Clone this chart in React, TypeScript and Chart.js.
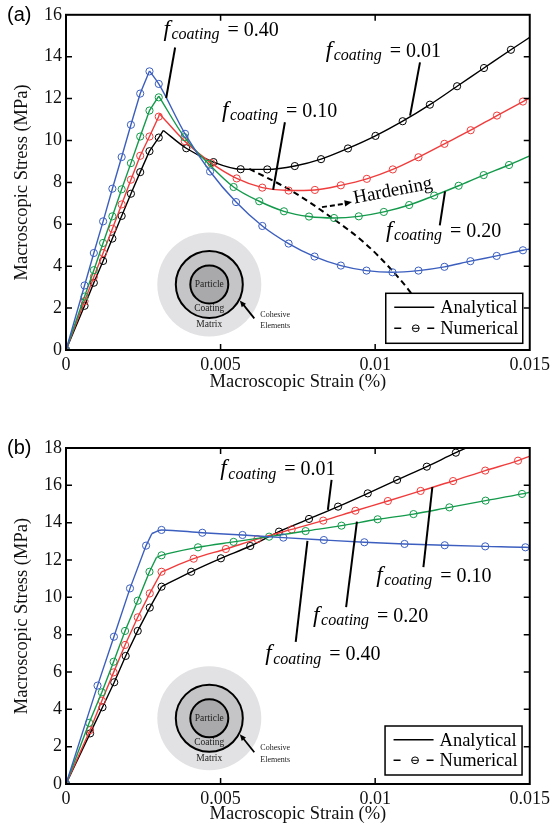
import React, { useEffect, useRef } from 'react';
import { Chart, registerables } from 'chart.js';
Chart.register(...registerables);

const SERIF = '"Liberation Serif", "Times New Roman", serif';
const SANS = '"Liberation Sans", Arial, sans-serif';
const BLACK = '#000000';
const RED = '#f03c3c';
const GREEN = '#139a4b';
const BLUE = '#3c5fbf';

const xTickValues = [0, 0.005, 0.01, 0.015];
const xTickLabels = ['0', '0.005', '0.01', '0.015'];
const legendLabels = ['Analytical', 'Numerical'];
const xTitle = 'Macroscopic Strain (%)';
const yTitle = 'Macroscopic Stress (MPa)';

// ---------- panel (a) ----------
const aBlackX = [0, 0.0006, 0.0009, 0.0012, 0.0015, 0.0018, 0.0021, 0.0024, 0.0027, 0.003, 0.00389, 0.00477, 0.00565, 0.00651, 0.0074, 0.00825, 0.00912, 0.01001, 0.01089, 0.01177, 0.01265, 0.01352, 0.01439];
const aBlackY = [0, 2.11, 3.21, 4.25, 5.32, 6.4, 7.46, 8.49, 9.49, 10.14, 9.63, 8.97, 8.63, 8.62, 8.78, 9.11, 9.62, 10.22, 10.92, 11.71, 12.59, 13.46, 14.33];
const aRedX = [0, 0.0006, 0.0009, 0.0012, 0.0015, 0.0018, 0.0021, 0.0024, 0.0027, 0.003, 0.00384, 0.0047, 0.00552, 0.00635, 0.0072, 0.00805, 0.00889, 0.00973, 0.01057, 0.0114, 0.01224, 0.01309, 0.01394, 0.01478];
const aRedY = [0, 2.33, 3.49, 4.63, 5.79, 6.95, 8.13, 9.27, 10.19, 11.14, 9.97, 8.92, 8.19, 7.75, 7.61, 7.64, 7.86, 8.17, 8.62, 9.2, 9.84, 10.49, 11.19, 11.86];
const aGreenX = [0, 0.0006, 0.0009, 0.0012, 0.0015, 0.0018, 0.0021, 0.0024, 0.0027, 0.003, 0.00383, 0.00461, 0.00542, 0.00625, 0.00705, 0.00786, 0.00867, 0.00947, 0.01028, 0.0111, 0.01191, 0.0127, 0.01351, 0.01433];
const aGreenY = [0, 2.55, 3.81, 5.11, 6.38, 7.67, 8.92, 10.19, 11.43, 12.06, 10.16, 8.89, 7.78, 7.1, 6.62, 6.37, 6.3, 6.38, 6.59, 6.92, 7.37, 7.84, 8.35, 8.83];
const aBlueX = [0, 0.0006, 0.0009, 0.0012, 0.0015, 0.0018, 0.0021, 0.0024, 0.0027, 0.003, 0.00385, 0.00466, 0.0055, 0.00635, 0.0072, 0.00804, 0.00889, 0.00972, 0.01056, 0.0114, 0.01224, 0.01308, 0.01393, 0.01478];
const aBlueY = [0, 3.08, 4.63, 6.14, 7.7, 9.21, 10.75, 12.24, 13.3, 12.7, 10.32, 8.52, 7.06, 5.92, 5.08, 4.46, 4.03, 3.79, 3.71, 3.79, 3.97, 4.24, 4.49, 4.76];
// analytical peaks and end values (black, red, green, blue)
const aPeakX = [0.00315, 0.00302, 0.003, 0.0027];
const aPeakY = [10.48, 11.28, 12.12, 13.32];
const aEndY = [14.92, 12.03, 9.27, 4.82];
// hardening boundary (dashed)
const aBoundaryX = [0.00593, 0.00727, 0.00856, 0.00968, 0.01054, 0.01113, 0.0117];
const aBoundaryY = [8.65, 7.62, 6.35, 5.08, 3.81, 2.78, 1.6];

// ---------- panel (b) ----------
const bBlackX = [0, 0.00078, 0.00118, 0.00156, 0.00193, 0.00232, 0.00271, 0.00309, 0.00405, 0.00501, 0.00596, 0.00689, 0.00786, 0.0088, 0.00976, 0.01071, 0.01167, 0.01261];
const bBlackY = [0, 2.71, 4.11, 5.45, 6.86, 8.2, 9.45, 10.57, 11.37, 12.09, 12.75, 13.52, 14.2, 14.86, 15.57, 16.29, 17.0, 17.75];
const bRedX = [0, 0.00078, 0.00116, 0.00154, 0.00191, 0.00232, 0.00271, 0.00309, 0.00413, 0.00517, 0.00619, 0.0073, 0.00832, 0.00936, 0.01041, 0.01147, 0.01252, 0.01356, 0.01462];
const bRedY = [0, 2.89, 4.46, 5.98, 7.45, 8.93, 10.21, 11.37, 12.07, 12.59, 13.12, 13.64, 14.11, 14.64, 15.16, 15.7, 16.23, 16.79, 17.32];
const bGreenX = [0, 0.00075, 0.00116, 0.00154, 0.00191, 0.00232, 0.0027, 0.00309, 0.00427, 0.00542, 0.00657, 0.00775, 0.00891, 0.01008, 0.01124, 0.0124, 0.01357, 0.01475];
const bGreenY = [0, 3.28, 4.91, 6.55, 8.2, 9.82, 11.37, 12.25, 12.68, 12.97, 13.25, 13.55, 13.84, 14.18, 14.46, 14.82, 15.18, 15.54];
const bBlueX = [0, 0.00102, 0.00155, 0.00207, 0.00259, 0.00309, 0.00441, 0.00571, 0.00703, 0.00834, 0.00965, 0.01095, 0.01225, 0.01356, 0.01486];
const bBlueY = [0, 5.27, 7.89, 10.48, 12.77, 13.61, 13.46, 13.34, 13.2, 13.07, 12.95, 12.86, 12.79, 12.73, 12.68];
const bKneeX = [0.00309, 0.00309, 0.00293, 0.00278];
const bKneeY = [10.57, 11.37, 12.15, 13.42];
const bEndY = [19.5, 17.57, 15.63, 12.67];

const coatingValues = ['0.01', '0.10', '0.20', '0.40'];

type Note = { v: string; tx: number; ty: number; x1: number; y1: number; x2: number; y2: number };

const aNotes: Note[] = [
  { v: coatingValues[3], tx: 0.00312, ty: 15.0, x1: 0.00353, y1: 14.44, x2: 0.00324, y2: 12.03 },
  { v: coatingValues[0], tx: 0.00837, ty: 14.0, x1: 0.01145, y1: 13.73, x2: 0.01113, y2: 11.19 },
  { v: coatingValues[1], tx: 0.00501, ty: 11.14, x1: 0.00708, y1: 10.87, x2: 0.0067, y2: 7.65 },
  { v: coatingValues[2], tx: 0.01032, ty: 5.4, x1: 0.01209, y1: 5.95, x2: 0.01226, y2: 7.57 },
];
const bNotes: Note[] = [
  { v: coatingValues[0], tx: 0.00496, ty: 16.55, x1: 0.00859, y1: 16.29, x2: 0.00847, y2: 14.68 },
  { v: coatingValues[1], tx: 0.0100, ty: 10.84, x1: 0.01156, y1: 11.62, x2: 0.01185, y2: 15.91 },
  { v: coatingValues[2], tx: 0.00796, ty: 8.69, x1: 0.00941, y1: 14.05, x2: 0.00906, y2: 9.48 },
  { v: coatingValues[3], tx: 0.00641, ty: 6.64, x1: 0.00743, y1: 7.62, x2: 0.00781, y2: 13.02 },
];

const pts = (xs: number[], ys: number[]) => xs.map((x, i) => ({ x, y: ys[i] }));

const lineDs = (data: any[], color: string, smooth: boolean, extra: any = {}) => ({
  data,
  borderColor: color,
  borderWidth: 1.4,
  pointRadius: 0,
  fill: false,
  showLine: true,
  tension: 0,
  cubicInterpolationMode: smooth ? 'monotone' : 'default',
  ...extra,
});

const markerDs = (xs: number[], ys: number[], color: string) => ({
  data: pts(xs, ys),
  showLine: false,
  pointRadius: 3.6,
  pointBorderWidth: 1,
  pointBorderColor: color,
  pointBackgroundColor: 'rgba(0,0,0,0)',
  borderColor: color,
  pointStyle: 'circle',
});

function splitSeries(xs: number[], ys: number[], kx: number, ky: number, endY: number, color: string) {
  const rise: any[] = [];
  const post: any[] = [];
  xs.forEach((x, i) => {
    if (x < kx) rise.push({ x, y: ys[i] });
    else if (x > kx) post.push({ x, y: ys[i] });
  });
  rise.push({ x: kx, y: ky });
  post.unshift({ x: kx, y: ky });
  post.push({ x: 0.015, y: endY });
  return [lineDs(rise, color, false), lineDs(post, color, true), markerDs(xs, ys, color)];
}

function arrowHead(ctx: CanvasRenderingContext2D, x1: number, y1: number, x2: number, y2: number, size: number) {
  const ang = Math.atan2(y2 - y1, x2 - x1);
  ctx.beginPath();
  ctx.moveTo(x2, y2);
  ctx.lineTo(x2 - size * Math.cos(ang - 0.4), y2 - size * Math.sin(ang - 0.4));
  ctx.lineTo(x2 - size * Math.cos(ang + 0.4), y2 - size * Math.sin(ang + 0.4));
  ctx.closePath();
  ctx.fill();
}

function drawNote(ctx: CanvasRenderingContext2D, x: number, y: number, val: string) {
  ctx.fillStyle = '#000';
  ctx.textAlign = 'left';
  ctx.textBaseline = 'alphabetic';
  ctx.font = `italic 23px ${SERIF}`;
  ctx.fillText('f', x + 1, y);
  ctx.font = `italic 16px ${SERIF}`;
  const cx = x + 9;
  ctx.fillText('coating', cx, y + 3.5);
  const ex = cx + ctx.measureText('coating').width + 8;
  ctx.font = `20px ${SERIF}`;
  ctx.fillText('= ' + val, ex, y);
}

function drawInset(ctx: CanvasRenderingContext2D, cx: number, cy: number) {
  ctx.save();
  ctx.fillStyle = '#e2e2e4';
  ctx.beginPath(); ctx.arc(cx, cy, 52, 0, Math.PI * 2); ctx.fill();
  ctx.fillStyle = '#c5c5c7';
  ctx.beginPath(); ctx.arc(cx, cy, 33.5, 0, Math.PI * 2); ctx.fill();
  ctx.lineWidth = 2; ctx.strokeStyle = '#000'; ctx.stroke();
  ctx.fillStyle = '#a9a9ab';
  ctx.beginPath(); ctx.arc(cx, cy, 19, 0, Math.PI * 2); ctx.fill(); ctx.stroke();
  ctx.fillStyle = '#222';
  ctx.textAlign = 'center';
  ctx.textBaseline = 'middle';
  ctx.font = `9.5px ${SERIF}`;
  ctx.fillText('Particle', cx, cy);
  ctx.fillText('Coating', cx, cy + 24);
  ctx.fillText('Matrix', cx, cy + 40);
  ctx.textAlign = 'left';
  ctx.font = `8px ${SERIF}`;
  ctx.fillText('Cohesive', cx + 51, cy + 30);
  ctx.fillText('Elements', cx + 51, cy + 41.5);
  ctx.strokeStyle = '#000'; ctx.fillStyle = '#000'; ctx.lineWidth = 1.8;
  ctx.beginPath(); ctx.moveTo(cx + 45, cy + 34); ctx.lineTo(cx + 33, cy + 19); ctx.stroke();
  arrowHead(ctx, cx + 45, cy + 34, cx + 30.5, cy + 16, 7);
  ctx.restore();
}

function drawLegend(ctx: CanvasRenderingContext2D, right: number, bottom: number, h: number) {
  const w = 137;
  const x = right - w;
  const y = bottom - h;
  ctx.save();
  ctx.fillStyle = '#fff';
  ctx.fillRect(x, y, w, h);
  ctx.strokeStyle = '#000';
  ctx.lineWidth = 1.5;
  ctx.strokeRect(x, y, w, h);
  const r1 = y + h * 0.28;
  const r2 = y + h * 0.7;
  ctx.lineWidth = 1.4;
  ctx.beginPath(); ctx.moveTo(x + 8.5, r1); ctx.lineTo(x + 48.5, r1); ctx.stroke();
  ctx.beginPath(); ctx.moveTo(x + 8.5, r2); ctx.lineTo(x + 15.5, r2); ctx.moveTo(x + 41.5, r2); ctx.lineTo(x + 48.5, r2); ctx.stroke();
  ctx.lineWidth = 1;
  ctx.beginPath(); ctx.arc(x + 30, r2, 3.4, 0, Math.PI * 2); ctx.stroke();
  ctx.beginPath(); ctx.moveTo(x + 26.6, r2); ctx.lineTo(x + 33.4, r2); ctx.stroke();
  ctx.fillStyle = '#000';
  ctx.font = `18.5px ${SERIF}`;
  ctx.textAlign = 'left';
  ctx.textBaseline = 'middle';
  ctx.fillText(legendLabels[0], x + 54.5, r1 + 1);
  ctx.fillText(legendLabels[1], x + 54.5, r2 + 1);
  ctx.restore();
}

type PanelOpts = {
  key: string;
  yMax: number;
  padTop: number;
  canvasH: number;
  titlePadBottom: number;
  datasets: any[];
  notes: Note[];
  insetX: number;
  insetY: number;
  legendDx: number;
  legendDy: number;
  legendH: number;
  label: string;
  labelY: number;
  hardening: boolean;
};

function makeConfig(p: PanelOpts): any {
  const plugin = {
    id: 'decor_' + p.key,
    beforeDatasetsDraw(chart: any) {
      const { ctx, scales } = chart;
      drawInset(ctx, scales.x.getPixelForValue(p.insetX), scales.y.getPixelForValue(p.insetY));
    },
    afterDatasetsDraw(chart: any) {
      const { ctx, chartArea: a, scales } = chart;
      const sx = scales.x;
      const sy = scales.y;
      ctx.save();
      ctx.strokeStyle = '#000';
      ctx.lineWidth = 2;
      ctx.strokeRect(a.left, a.top, a.right - a.left, a.bottom - a.top);
      ctx.lineWidth = 1.5;
      ctx.beginPath();
      for (let v = 2; v < p.yMax; v += 2) {
        const py = sy.getPixelForValue(v);
        ctx.moveTo(a.left, py); ctx.lineTo(a.left + 6, py);
        ctx.moveTo(a.right, py); ctx.lineTo(a.right - 6, py);
      }
      [xTickValues[1], xTickValues[2]].forEach((v) => {
        const px = sx.getPixelForValue(v);
        ctx.moveTo(px, a.bottom); ctx.lineTo(px, a.bottom - 6);
        ctx.moveTo(px, a.top); ctx.lineTo(px, a.top + 6);
      });
      ctx.stroke();
      ctx.lineWidth = 2;
      p.notes.forEach((n) => {
        ctx.beginPath();
        ctx.moveTo(sx.getPixelForValue(n.x1), sy.getPixelForValue(n.y1));
        ctx.lineTo(sx.getPixelForValue(n.x2), sy.getPixelForValue(n.y2));
        ctx.stroke();
        drawNote(ctx, sx.getPixelForValue(n.tx), sy.getPixelForValue(n.ty), n.v);
      });
      if (p.hardening) {
        const x1 = sx.getPixelForValue(0.00828), y1 = sy.getPixelForValue(6.82);
        const x2 = sx.getPixelForValue(0.00925), y2 = sy.getPixelForValue(7.06);
        ctx.setLineDash([5, 3]);
        ctx.beginPath(); ctx.moveTo(x1, y1); ctx.lineTo(x2 - 5, y2 + 1.2); ctx.stroke();
        ctx.setLineDash([]);
        ctx.fillStyle = '#000';
        arrowHead(ctx, x1, y1, x2, y2, 8);
        ctx.save();
        ctx.translate(sx.getPixelForValue(0.00933), sy.getPixelForValue(6.99));
        ctx.rotate(-11 * Math.PI / 180);
        ctx.font = `19px ${SERIF}`;
        ctx.textAlign = 'left';
        ctx.textBaseline = 'alphabetic';
        ctx.fillText('Hardening', 0, 0);
        ctx.restore();
      }
      drawLegend(ctx, a.right - p.legendDx, a.bottom - p.legendDy, p.legendH);
      ctx.restore();
    },
    afterDraw(chart: any) {
      const { ctx } = chart;
      ctx.save();
      ctx.fillStyle = '#000';
      ctx.font = `20px ${SANS}`;
      ctx.textAlign = 'left';
      ctx.textBaseline = 'middle';
      ctx.fillText(p.label, 7, p.labelY);
      ctx.restore();
    },
  };

  const tickFont = { family: SERIF, size: 18 };
  const titleFont = { family: SERIF, size: 18.5 };

  return {
    type: 'line',
    data: { datasets: p.datasets },
    options: {
      animation: false,
      responsive: false,
      devicePixelRatio: 1,
      layout: { padding: { top: p.padTop, right: 22, left: 0, bottom: 0 } },
      plugins: { legend: { display: false }, tooltip: { enabled: false } },
      scales: {
        x: {
          type: 'linear',
          min: 0,
          max: 0.015,
          afterBuildTicks: (s: any) => { s.ticks = xTickValues.map((v) => ({ value: v })); },
          afterFit: (s: any) => { s.height = p.canvasH - (p.padTop + 336); },
          ticks: {
            callback: (_v: any, i: number) => xTickLabels[i],
            font: tickFont,
            color: '#111',
            padding: 4,
            maxRotation: 0,
            autoSkip: false,
          },
          grid: { display: false, drawTicks: false },
          border: { display: false },
          title: { display: true, text: xTitle, font: titleFont, color: '#111', padding: { top: 0, bottom: p.titlePadBottom } },
        },
        y: {
          type: 'linear',
          min: 0,
          max: p.yMax,
          afterFit: (s: any) => { s.width = 66; },
          ticks: { stepSize: 2, font: tickFont, color: '#111', padding: 4 },
          grid: { display: false, drawTicks: false },
          border: { display: false },
          title: { display: true, text: yTitle, font: titleFont, color: '#111', padding: { top: 11, bottom: 0 } },
        },
      },
    },
    plugins: [plugin],
  };
}

function panelADatasets() {
  const ds: any[] = [];
  const xs = [aBlueX, aGreenX, aRedX, aBlackX];
  const ys = [aBlueY, aGreenY, aRedY, aBlackY];
  const cols = [BLUE, GREEN, RED, BLACK];
  const idx = [3, 2, 1, 0];
  xs.forEach((x, k) => {
    const i = idx[k];
    ds.push(...splitSeries(x, ys[k], aPeakX[i], aPeakY[i], aEndY[i], cols[k]));
  });
  ds.push(lineDs(pts(aBoundaryX, aBoundaryY), BLACK, true, { borderDash: [6, 4], borderWidth: 2 }));
  return ds;
}

function panelBDatasets() {
  const ds: any[] = [];
  const xs = [bBlueX, bGreenX, bRedX, bBlackX];
  const ys = [bBlueY, bGreenY, bRedY, bBlackY];
  const cols = [BLUE, GREEN, RED, BLACK];
  const idx = [3, 2, 1, 0];
  xs.forEach((x, k) => {
    const i = idx[k];
    ds.push(...splitSeries(x, ys[k], bKneeX[i], bKneeY[i], bEndY[i], cols[k]));
  });
  return ds;
}

export default function App() {
  const refA = useRef<HTMLCanvasElement>(null);
  const refB = useRef<HTMLCanvasElement>(null);

  useEffect(() => {
    const chartA = new Chart(refA.current as HTMLCanvasElement, makeConfig({
      key: 'a', yMax: 16, padTop: 14, canvasH: 395, titlePadBottom: 2,
      datasets: panelADatasets(), notes: aNotes, insetX: 0.004635, insetY: 3.13,
      legendDx: 7, legendDy: 6.7, legendH: 50, label: '(a)', labelY: 15, hardening: true,
    }));
    const chartB = new Chart(refB.current as HTMLCanvasElement, makeConfig({
      key: 'b', yMax: 18, padTop: 17, canvasH: 400, titlePadBottom: 6,
      datasets: panelBDatasets(), notes: bNotes, insetX: 0.004635, insetY: 3.52,
      legendDx: 7.7, legendDy: 9, legendH: 49, label: '(b)', labelY: 17.5, hardening: false,
    }));
    return () => { chartA.destroy(); chartB.destroy(); };
  }, []);

  return (
    <div style={{ position: 'fixed', left: 0, top: 0, width: 554, height: 831, background: '#fff' }}>
      <canvas ref={refA} width={554} height={395} style={{ position: 'absolute', left: 0, top: 0, width: 554, height: 395 }} />
      <canvas ref={refB} width={554} height={400} style={{ position: 'absolute', left: 0, top: 431, width: 554, height: 400 }} />
    </div>
  );
}
